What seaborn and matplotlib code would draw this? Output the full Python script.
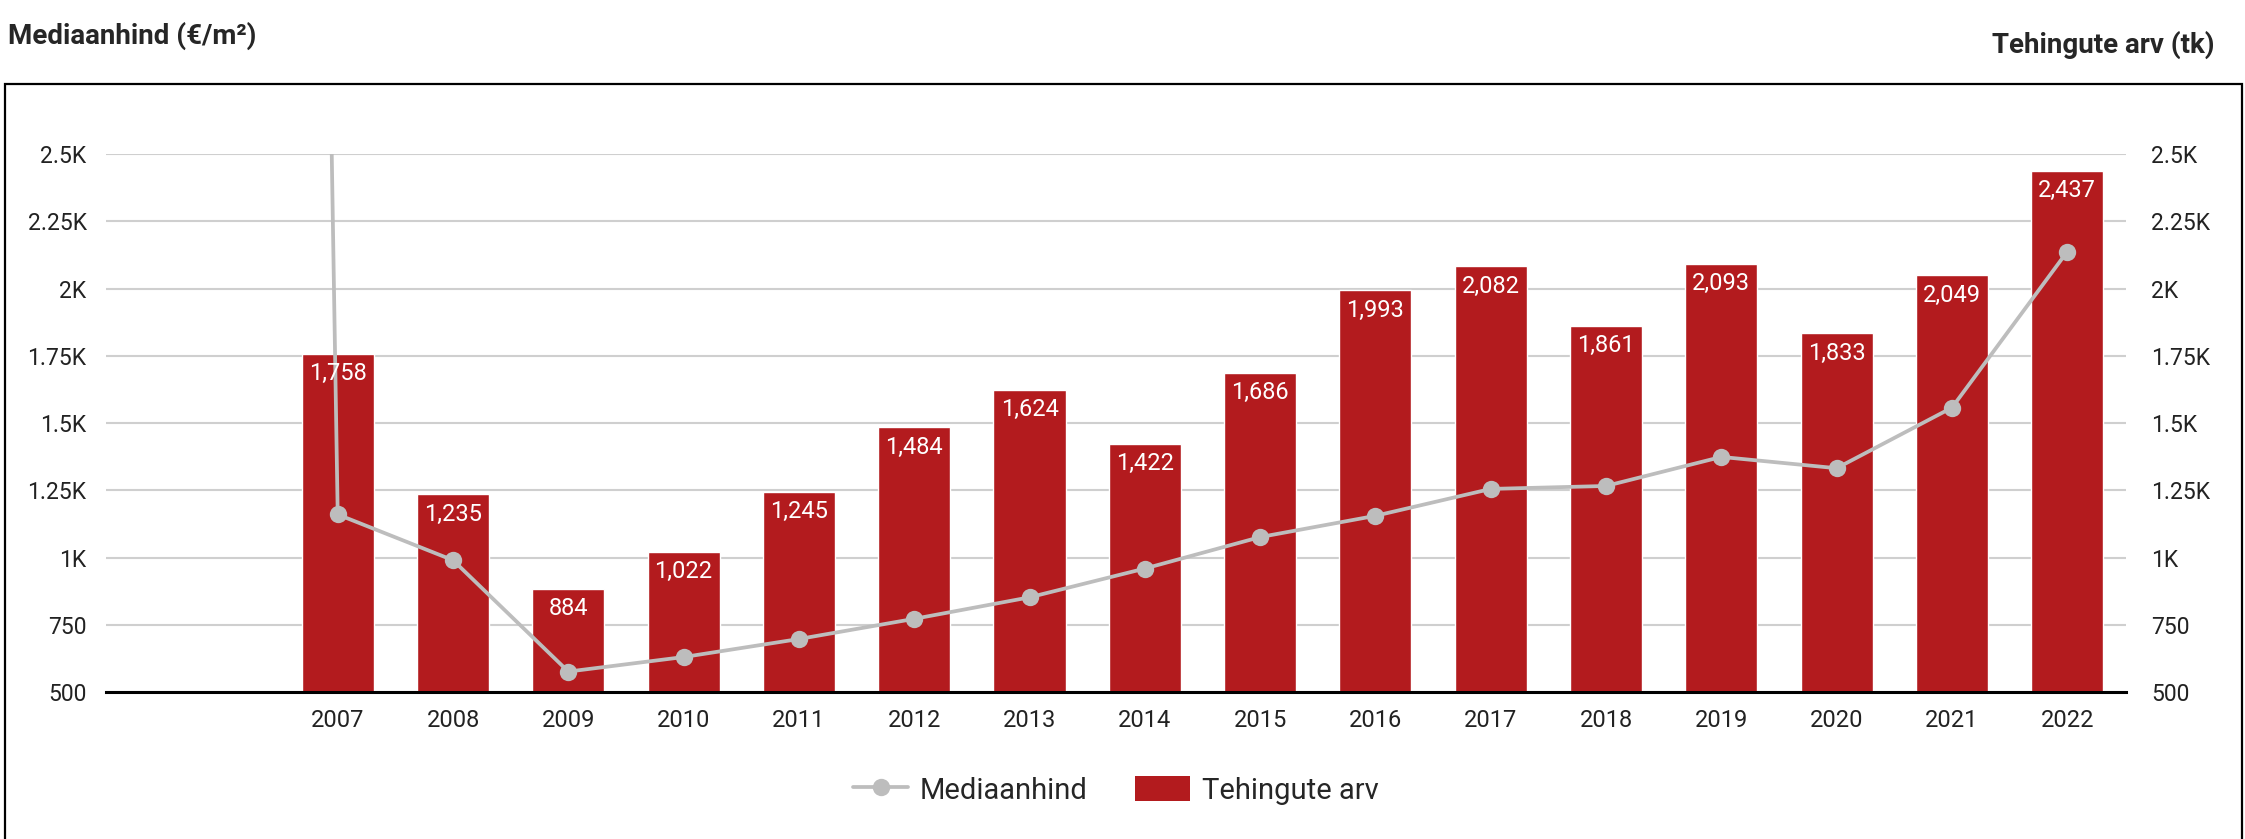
import numpy as np
import pandas as pd
import seaborn as sns
import matplotlib.pyplot as plt
from matplotlib.lines import Line2D
from matplotlib.patches import Patch, Rectangle

# andmed (loetud pildilt)
# 2006 ei ole teljel sildiga, kuid joon algab sealt kaugelt üleval
aastad = ["2006", "2007", "2008", "2009", "2010", "2011", "2012", "2013", "2014",
          "2015", "2016", "2017", "2018", "2019", "2020", "2021", "2022"]
tehingud = [np.nan, 1758, 1235, 884, 1022, 1245, 1484, 1624, 1422,
            1686, 1993, 2082, 1861, 2093, 1833, 2049, 2437]
mediaanhind = [27000, 1160, 990, 576, 630, 697, 772, 852, 959,
               1076, 1155, 1255, 1266, 1374, 1332, 1557, 2137]
y_ticks = [500, 750, 1000, 1250, 1500, 1750, 2000, 2250, 2500]
y_labels = ["500", "750", "1K", "1.25K", "1.5K", "1.75K", "2K", "2.25K", "2.5K"]

red = "#B31B1E"
grey = "#BDBDBD"

df = pd.DataFrame({"aasta": aastad, "tehingud": tehingud, "mediaanhind": mediaanhind})

sns.set_style("white")
plt.rcParams["font.family"] = ["Roboto", "DejaVu Sans"]

fig = plt.figure(figsize=(22.45, 8.39), dpi=100)
ax = fig.add_axes([0.0472, 0.1752, 0.8998, 0.6412])

sns.barplot(data=df, x="aasta", y="tehingud", order=aastad, color=red,
            width=0.625, saturation=1, ax=ax, zorder=2)
pos = np.arange(len(aastad))
sns.lineplot(x=pos, y=df["mediaanhind"], color=grey, linewidth=2.7,
             marker="o", markersize=12.5, markeredgewidth=0, ax=ax, zorder=3)

# bar value labels inside the top
for i, v in enumerate(tehingud):
    if np.isnan(v):
        continue
    ax.annotate(f"{int(v):,}", (i, v), xytext=(0, -6), textcoords="offset points",
                ha="center", va="top", color="white", fontsize=17, zorder=4)

ax.set_xlim(-1.01, len(aastad) - 0.49)
ax.set_ylim(500, 2500)
ax.set_yticks(y_ticks)
ax.set_yticklabels(y_labels)
ax.set_xticks(pos)
ax.set_xticklabels(["" if np.isnan(t) else a for a, t in zip(aastad, tehingud)])
ax.set_xlabel("")
ax.set_ylabel("")
ax.grid(axis="y", color="#CFCFCF", linewidth=1.5, zorder=0)
ax.set_axisbelow(True)
for s in ["top", "left", "right"]:
    ax.spines[s].set_visible(False)
ax.spines["bottom"].set_color("black")
ax.spines["bottom"].set_linewidth(2.2)
ax.spines["bottom"].set_zorder(5)
ax.tick_params(axis="y", length=0, pad=14, labelsize=16.5, labelcolor="#222222")
ax.tick_params(axis="x", length=0, pad=12, labelsize=17, labelcolor="#222222")

ax2 = ax.twinx()
ax2.set_ylim(500, 2500)
ax2.set_yticks(y_ticks)
ax2.set_yticklabels(y_labels)
ax2.tick_params(axis="y", length=0, pad=18, labelsize=16.5, labelcolor="#222222")
for s in ax2.spines.values():
    s.set_visible(False)
ax2.grid(False)

handles = [Line2D([0], [0], color=grey, linewidth=2.7, marker="o", markersize=12.5,
                  markeredgewidth=0),
           Patch(facecolor=red, edgecolor="none")]
fig.legend(handles, ["Mediaanhind", "Tehingute arv"], loc="center",
           bbox_to_anchor=(0.497, 0.058), ncol=2, frameon=False, fontsize=21,
           handlelength=1.9, handleheight=0.95, handletextpad=0.4,
           columnspacing=1.6)

fig.text(0.0036, 1 - 36 / 839, "Mediaanhind (€/m²)", fontsize=20,
         fontweight="bold", va="center", ha="left")
fig.text(2214 / 2245, 1 - 45 / 839, "Tehingute arv (tk)", fontsize=20,
         fontweight="bold", va="center", ha="right")

fig.patches.append(Rectangle((5 / 2245, -0.2), 2237 / 2245, 1.2 - 84 / 839,
                             transform=fig.transFigure, fill=False,
                             edgecolor="black", linewidth=1.6))

fig.savefig("out.png", dpi=100)
